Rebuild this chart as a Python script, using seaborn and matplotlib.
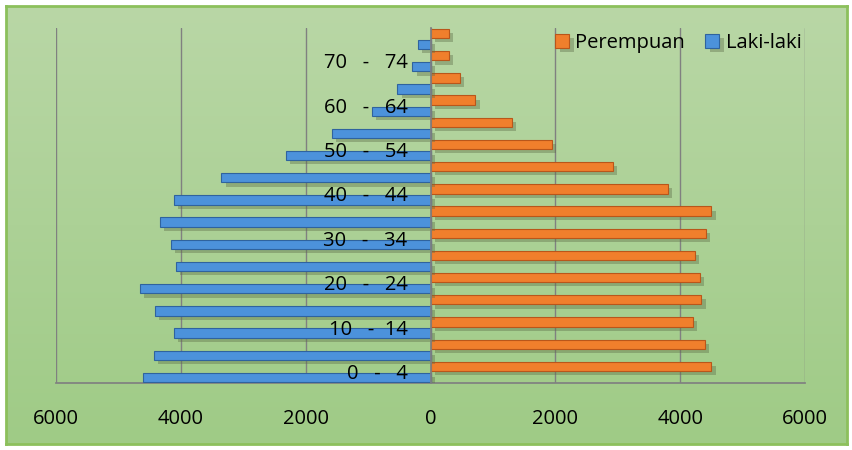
import matplotlib
matplotlib.use('Agg')
import matplotlib.pyplot as plt
import matplotlib.patheffects as pe
import matplotlib.transforms as mtransforms
from matplotlib.colors import LinearSegmentedColormap, to_hex
import numpy as np
import pandas as pd
import seaborn as sns

# Data
age_groups = ['0   -   4', '5   -   9', '10   -  14', '15   -   19', '20   -   24',
              '25   -   29', '30   -   34', '35   -   39', '40   -   44', '45   -   49',
              '50   -   54', '55   -   59', '60   -   64', '65   -   69', '70   -   74', '75+']
laki_laki = [4600, 4430, 4110, 4420, 4660, 4080, 4160, 4340, 4110, 3350,
             2320, 1580, 940, 530, 290, 200]
perempuan = [4500, 4390, 4200, 4340, 4310, 4240, 4410, 4500, 3800, 2920,
             1950, 1300, 720, 470, 290, 290]
x_ticks = [-6000, -4000, -2000, 0, 2000, 4000, 6000]
x_tick_labels = ['6000', '4000', '2000', '0', '2000', '4000', '6000']

df = pd.DataFrame({
    'umur': age_groups * 2,
    'jenis': ['Laki-laki'] * len(age_groups) + ['Perempuan'] * len(age_groups),
    'jumlah': [-v for v in laki_laki] + perempuan,
})
order = age_groups[::-1]
colors = {'Perempuan': '#F07F2C', 'Laki-laki': '#4C92DB'}
edges = {'#f07f2c': '#B9561A', '#4c92db': '#2F639E'}

sns.set_theme(style='white')
plt.rcParams['font.family'] = ['Open Sans', 'DejaVu Sans']
plt.rcParams['text.color'] = 'black'
plt.rcParams['xtick.color'] = 'black'

fig = plt.figure(figsize=(8.53, 4.5), dpi=100, facecolor='white')

# Background panel with soft green gradient and border
bg = fig.add_axes([6 / 853, 6 / 450, 841 / 853, 438 / 450])
grad = np.linspace(0, 1, 256).reshape(-1, 1)
cmap = LinearSegmentedColormap.from_list('bg', ['#B9D7A6', '#9FCB86'])
bg.imshow(grad, aspect='auto', cmap=cmap, extent=[0, 1, 0, 1])
bg.set_xlim(0, 1)
bg.set_ylim(0, 1)
bg.set_xticks([])
bg.set_yticks([])
for s in bg.spines.values():
    s.set_color('#8CC05C')
    s.set_linewidth(2)

ax = fig.add_axes([56 / 853, 67 / 450, 749 / 853, 355 / 450])
ax.patch.set_visible(False)

sns.barplot(
    data=df, y='umur', x='jumlah', hue='jenis',
    order=order, hue_order=['Perempuan', 'Laki-laki'],
    palette=colors, orient='h', width=1.0, gap=0.16,
    saturation=1, errorbar=None, ax=ax,
)

for p in ax.patches:
    fc = to_hex(p.get_facecolor())
    p.set_edgecolor(edges.get(fc, fc))
    p.set_linewidth(0.8)
    p.set_zorder(3)
    p.set_path_effects([
        pe.SimplePatchShadow(offset=(3, -3), shadow_rgbFace='#5E6E48', alpha=0.4),
        pe.Normal(),
    ])

ax.set_xlim(-6000, 6000)
ax.set_ylim(15.5, -0.5)
ax.set_xticks(x_ticks)
ax.set_xticklabels(x_tick_labels, fontsize=14.5, color='black')
ax.tick_params(axis='x', direction='out', length=6, width=1, color='#808080', pad=13)
ax.grid(axis='x', color='#808080', linewidth=1)
ax.set_axisbelow(True)
ax.set_xlabel('')
ax.set_ylabel('')

for s in ['top', 'right']:
    ax.spines[s].set_visible(False)
ax.spines['bottom'].set_color('#808080')
ax.spines['left'].set_color('#808080')
ax.spines['left'].set_position(('data', 0))
ax.spines['left'].set_zorder(4)

ax.set_yticks(np.arange(-0.5, 16, 1))
ax.set_yticklabels([])
ax.tick_params(axis='y', direction='out', length=5, width=1, color='#808080')

# Age labels sit inside the plot, just left of the zero axis
lab_tr = mtransforms.offset_copy(ax.transData, fig=fig, x=-23, y=-2, units='dots')
n = len(age_groups)
for i, lab in enumerate(age_groups):
    if i % 2 == 0:
        ax.text(0, n - 1 - i, lab, transform=lab_tr, ha='right', va='center',
                fontsize=14.5, color='black', zorder=5)

h, l = ax.get_legend_handles_labels()
leg = ax.legend(h, l, loc='center right', bbox_to_anchor=(0.995, 0.958), ncol=2,
                frameon=False, fontsize=14.5, handlelength=0.7, handleheight=0.7,
                handletextpad=0.3, columnspacing=1.0, borderaxespad=0, borderpad=0)
for t in leg.get_texts():
    t.set_color('black')

fig.savefig('out.png', dpi=100, facecolor='white')
